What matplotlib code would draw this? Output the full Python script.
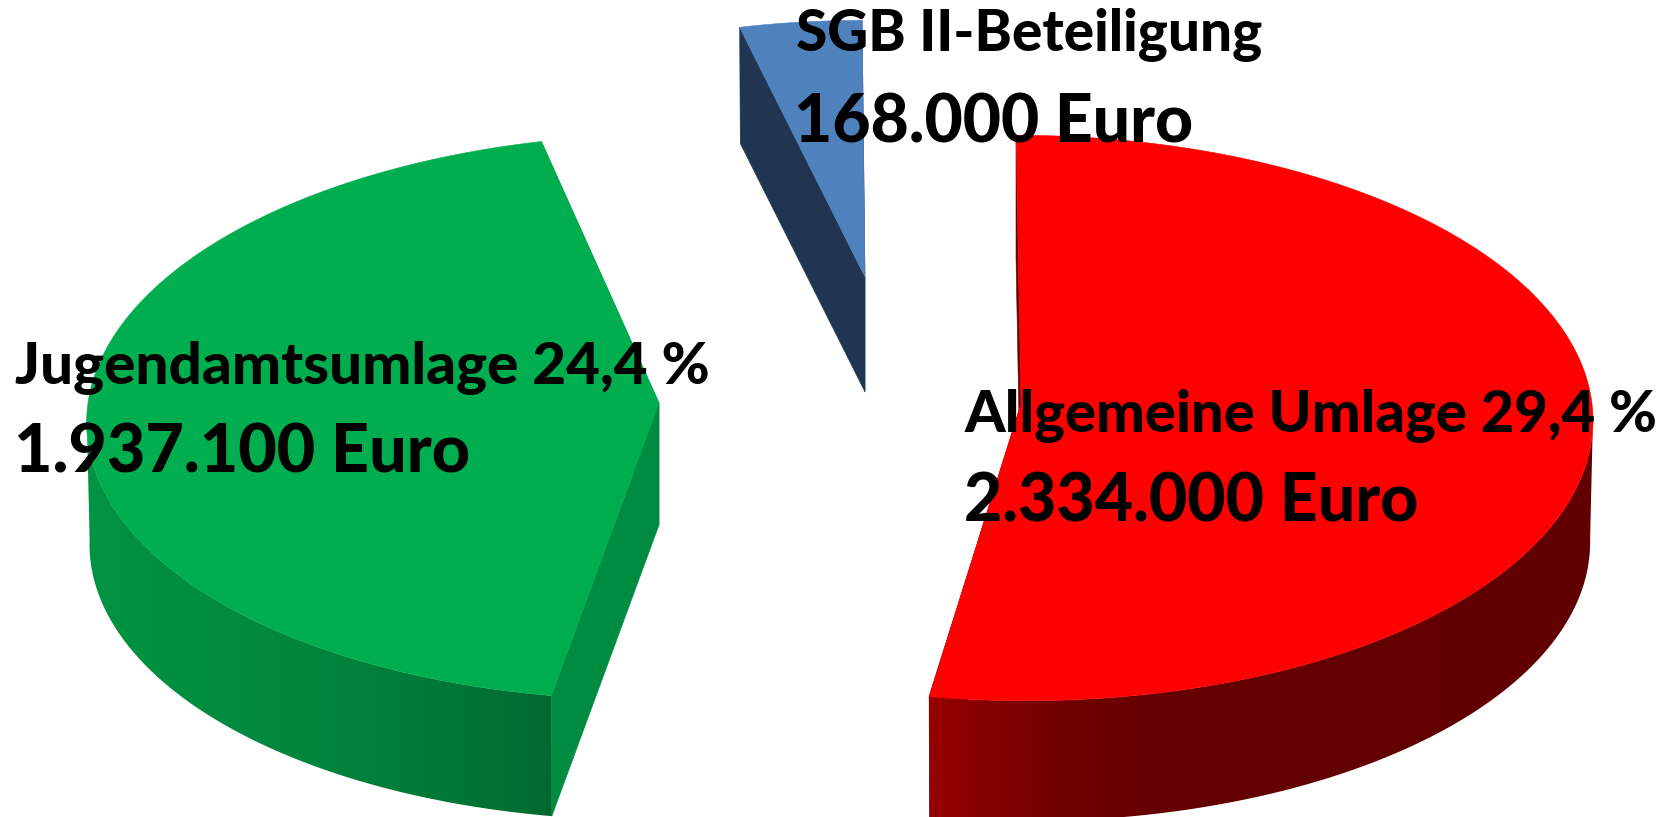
import numpy as np
import matplotlib
matplotlib.use("Agg")
import matplotlib.pyplot as plt
from matplotlib.patches import Polygon

# ---- data ----
slice_names = ["Allgemeine Umlage", "Jugendamtsumlage", "SGB II-Beteiligung"]
slice_euro = [2334000, 1937100, 168000]
label_line1 = ["Allgemeine Umlage 29,4 %", "Jugendamtsumlage 24,4 %", "SGB II-Beteiligung"]
label_line2 = ["2.334.000 Euro", "1.937.100 Euro", "168.000 Euro"]

# ---- style / layout (pixels of the 1670x817 canvas) ----
W, H = 1670, 817
RX, RY, K = 571, 282, 0.0495
BOTTOM_SHRINK = 0.995
apex = [(1021, 404), (659, 403), (865, 277)]
shear = [-5, 11, -3]
scale = [1.0, 1.0, 0.955]
depth = [122, 122, 115]
top_col = ["#FF0000", "#00AE4F", "#4F81BD"]
face_col = ["#660000", "#008C40", "#1F3552"]
wall_x = [[930, 1050, 1150, 1600], [85, 300, 460, 552], [700, 900]]
wall_rgb = [
    [(150, 0, 0), (115, 0, 0), (102, 0, 0), (96, 0, 0)],
    [(0, 148, 66), (0, 135, 60), (0, 118, 54), (0, 105, 48)],
    [(31, 53, 82), (31, 53, 82)],
]
text_x1 = [965, 15, 796]
text_y1 = [432, 384, 51]
text_x2 = [964, 14, 794]
text_y2 = [521, 472, 142]
FS1 = [41.8, 42.0, 40.8]
FS2 = [47.6, 47.8, 47.5]
FONT = "Lato"
WEIGHT = "black"

# ---- geometry ----
shares = np.array(slice_euro, dtype=float) / sum(slice_euro)
edges = np.concatenate([[0], np.cumsum(shares)]) * 2 * np.pi


def project(theta, i, bottom=False):
    u, v = np.sin(theta), np.cos(theta)
    d = 1 + K * v
    s = scale[i] * (BOTTOM_SHRINK if bottom else 1.0)
    x = apex[i][0] + s * (RX * u / d + shear[i] * v)
    y = apex[i][1] - s * RY * v / d + (depth[i] if bottom else 0)
    return x, y


fig = plt.figure(figsize=(W / 100, H / 100), dpi=100)
ax = fig.add_axes([0, 0, 1, 1])

for i in [2, 1, 0]:
    th = np.linspace(edges[i], edges[i + 1], 800)
    xt, yt = project(th, i)
    xb, yb = project(th, i, bottom=True)
    ap = apex[i]
    apb = (ap[0], ap[1] + depth[i])
    base = (2 - i) * 3

    # cut faces
    for e in (0, -1):
        face = [ap, (xt[e], yt[e]), (xb[e], yb[e]), apb]
        ax.add_patch(Polygon(face, closed=True, fc=face_col[i], ec=face_col[i],
                             lw=0.4, zorder=1 + base))

    # outer wall: only the front of the rim, horizontal gradient clipped to its outline
    front = np.cos(th) <= -K
    if front.sum() > 1:
        xtf, ytf = xt[front], yt[front]
        xbf, ybf = xb[front], yb[front]
        wall = Polygon(list(zip(xtf, ytf)) + list(zip(xbf[::-1], ybf[::-1])), closed=True,
                       fc="none", ec="none", transform=ax.transData)
        ax.add_patch(wall)
        x0, x1 = min(xtf.min(), xbf.min()) - 2, max(xtf.max(), xbf.max()) + 2
        y0, y1 = min(ytf.min(), ybf.min()) - 2, max(ytf.max(), ybf.max()) + 2
        cols = np.linspace(x0, x1, 512)
        grad = np.stack([np.interp(cols, wall_x[i], [r[k] for r in wall_rgb[i]]) / 255
                         for k in range(3)], axis=-1)[None, :, :]
        im = ax.imshow(grad, extent=(x0, x1, y1, y0), aspect="auto",
                       interpolation="bilinear", zorder=2 + base)
        im.set_clip_path(wall)

    # top surface
    top = [ap] + list(zip(xt, yt))
    ax.add_patch(Polygon(top, closed=True, fc=top_col[i], ec=top_col[i],
                         lw=0.4, zorder=3 + base))

ax.set_xlim(0, W)
ax.set_ylim(H, 0)
ax.axis("off")

for i in range(3):
    ax.text(text_x1[i], text_y1[i], label_line1[i], fontsize=FS1[i], family=FONT,
            fontweight=WEIGHT, color="black", va="baseline", ha="left", zorder=30)
    ax.text(text_x2[i], text_y2[i], label_line2[i], fontsize=FS2[i], family=FONT,
            fontweight=WEIGHT, color="black", va="baseline", ha="left", zorder=30)

fig.savefig("out.png", dpi=100, facecolor="white")
